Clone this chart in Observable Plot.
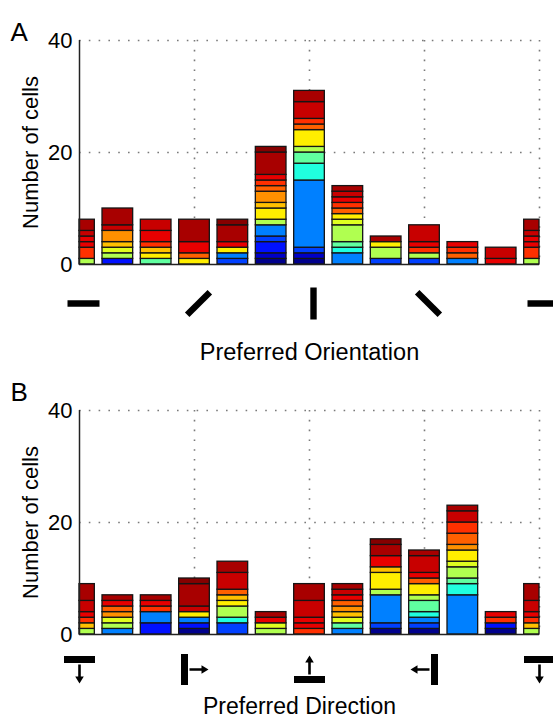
<!DOCTYPE html>
<html>
<head>
<meta charset="utf-8">
<script src="https://cdn.jsdelivr.net/npm/d3@7"></script>
<script src="https://cdn.jsdelivr.net/npm/@observablehq/plot@0.6"></script>
<style>
  body { margin: 0; background: #fff; }
  svg { display: block; }
</style>
</head>
<body>
<div id="chart"></div>
<script>
// jet-like colour levels used for the stacked segments (bottom = blue, top = dark red)
const levelColors = [
  "#00008c", "#0000c8", "#0010ff", "#0040ff", "#0080ff", "#20ffdf",
  "#60ffa0", "#b0ff50", "#dfff20", "#ffee00", "#ffc000", "#ff9000",
  "#ff6000", "#ff3000", "#e80000", "#c80000", "#a80000", "#860000"
];

// Panel A: preferred orientation (deg), segments [level, count] from bottom to top
const orientationBins = [0, 15, 30, 45, 60, 75, 90, 105, 120, 135, 150, 165, 180];
const orientationStacks = [
  [[7,1],[13,2],[14,1],[14,1],[15,1],[16,2]],
  [[2,1],[7,1],[8,1],[10,1],[11,2],[15,1],[16,3]],
  [[6,1],[9,1],[10,1],[13,1],[14,2],[15,2]],
  [[9,1],[12,1],[14,2],[16,4]],
  [[3,1],[4,1],[9,1],[14,1],[16,3],[17,1]],
  [[0,1],[1,1],[2,2],[3,1],[4,2],[7,1],[9,2],[10,1],[11,2],[12,1],[13,1],[14,1],[16,4],[17,1]],
  [[0,1],[1,1],[3,1],[4,12],[5,3],[6,2],[7,1],[9,3],[12,1],[13,1],[15,3],[16,2]],
  [[4,2],[5,1],[6,1],[7,3],[8,1],[9,1],[12,1],[13,1],[14,1],[15,1],[16,1]],
  [[3,1],[7,2],[9,1],[16,1]],
  [[3,1],[7,1],[13,1],[14,1],[15,3]],
  [[4,1],[12,1],[13,1],[14,1]],
  [[14,1],[15,2]],
  [[7,1],[13,2],[14,1],[14,1],[15,1],[16,2]]
];

// Panel B: preferred direction (deg)
const directionBins = [0, 30, 60, 90, 120, 150, 180, 210, 240, 270, 300, 330, 360];
const directionStacks = [
  [[7,1],[10,1],[13,1],[14,1],[15,2],[16,3]],
  [[4,1],[7,1],[8,1],[11,1],[12,1],[14,1],[16,1]],
  [[2,2],[4,2],[13,1],[14,1],[16,1]],
  [[0,1],[2,1],[4,1],[9,1],[15,1],[16,4],[17,1]],
  [[3,2],[5,1],[7,2],[9,1],[10,1],[12,1],[15,3],[16,2]],
  [[7,1],[8,1],[14,1],[16,1]],
  [[13,1],[14,1],[14,1],[15,3],[16,3]],
  [[4,1],[6,1],[8,1],[10,1],[11,1],[12,1],[14,1],[15,1],[16,1]],
  [[0,1],[3,1],[4,5],[7,1],[9,3],[10,1],[14,2],[16,2],[17,1]],
  [[0,1],[3,1],[4,1],[5,1],[6,2],[7,1],[9,2],[12,1],[14,1],[15,3],[16,1]],
  [[4,7],[5,2],[6,1],[7,2],[8,1],[9,2],[11,1],[12,2],[13,2],[15,2],[16,1]],
  [[0,1],[2,1],[13,1],[14,1]],
  [[7,1],[10,1],[13,1],[14,1],[15,2],[16,3]]
];

const countTicks = [0, 20, 40];
const countGrid = [20, 40];
const orientationTicks = [0, 45, 90, 135, 180];
const directionTicks = [0, 90, 180, 270, 360];
const yLabel = "Number of cells";
const orientationLabel = "Preferred Orientation";
const directionLabel = "Preferred Direction";

function segments(bins, stacks, step, lo, hi) {
  const rows = [];
  bins.forEach((b, i) => {
    let y = 0;
    for (const [level, n] of stacks[i]) {
      rows.push({
        x1: Math.max(lo, b - 0.4 * step),
        x2: Math.min(hi, b + 0.4 * step),
        y1: y, y2: y + n, color: levelColors[level]
      });
      y += n;
    }
  });
  return rows;
}

function poly(ctx, pts) {
  ctx.moveTo(pts[0][0], pts[0][1]);
  for (let k = 1; k < pts.length; k++) ctx.lineTo(pts[k][0], pts[k][1]);
  ctx.closePath();
}

// thick bar drawn at the given orientation
function orientIcon(deg) {
  const t = deg * Math.PI / 180;
  const ux = Math.cos(t), uy = -Math.sin(t), vx = -uy, vy = ux;
  const L = 16, T = 3.2;
  return {draw(ctx) {
    poly(ctx, [
      [L*ux + T*vx, L*uy + T*vy], [L*ux - T*vx, L*uy - T*vy],
      [-L*ux - T*vx, -L*uy - T*vy], [-L*ux + T*vx, -L*uy + T*vy]
    ]);
  }};
}

// bar + arrow showing the motion direction
function directionIcon(deg) {
  const t = deg * Math.PI / 180;
  const ax = Math.sin(t), ay = Math.cos(t), px = Math.cos(t), py = -Math.sin(t);
  const P = (s, q) => [s*ax + q*px, s*ay + q*py];
  return {draw(ctx) {
    poly(ctx, [P(-13.5,-15.5), P(-6.5,-15.5), P(-6.5,15.5), P(-13.5,15.5)]);
    poly(ctx, [P(-5,-1.3), P(7,-1.3), P(7,-4.3), P(14,0), P(7,4.3), P(7,1.3), P(-5,1.3)]);
  }};
}

const font = "'Liberation Sans', Arial, Helvetica, sans-serif";
const gridStyle = {stroke: "#7a7a7a", strokeWidth: 1.6, strokeDasharray: "1.6,8.2"};

function panel({letter, bins, stacks, step, domain, ticks, icon, iconDx, iconDy, label, labelDy, labelDx, labelSize, height, marginTop, marginBottom, letterDy}) {
  const rows = segments(bins, stacks, step, domain[0], domain[1]);
  return Plot.plot({
    width: 553, height,
    marginLeft: 79, marginRight: 14, marginTop, marginBottom,
    x: {domain, axis: null},
    y: {domain: [countTicks[0], countTicks[countTicks.length - 1]], axis: null},
    color: {type: "identity"},
    style: {fontFamily: font, color: "black", background: "white", overflow: "hidden"},
    marks: [
      Plot.ruleY(countGrid, gridStyle),
      Plot.ruleX(ticks.slice(1), gridStyle),
      Plot.rect(rows, {x1: "x1", x2: "x2", y1: "y1", y2: "y2", fill: "color", stroke: "#151515", strokeWidth: 1.3}),
      Plot.ruleX(ticks.slice(0, 1), {stroke: "#222", strokeWidth: 1.5}),
      Plot.ruleY(countTicks.slice(0, 1), {stroke: "#222", strokeWidth: 1.5}),
      Plot.text(countTicks, {y: d => d, text: d => String(d), frameAnchor: "left", dx: -7, textAnchor: "end", lineAnchor: "middle", fontSize: 22, fill: "black"}),
      Plot.text([yLabel], {text: d => d, frameAnchor: "left", dx: -49, rotate: -90, textAnchor: "middle", lineAnchor: "middle", fontSize: 22, fill: "black"}),
      Plot.text([label], {text: d => d, frameAnchor: "bottom", dx: labelDx, dy: labelDy, textAnchor: "middle", lineAnchor: "middle", fontSize: labelSize, fill: "black"}),
      Plot.text([letter], {text: d => d, frameAnchor: "top-left", dx: -69, dy: letterDy, textAnchor: "start", lineAnchor: "middle", fontSize: 26, fill: "black"}),
      ...ticks.map(t => Plot.dot([t], {x: d => d, frameAnchor: "bottom", dx: iconDx, dy: iconDy, symbol: icon(t), fill: "black", stroke: "none"}))
    ]
  });
}

const chart = document.getElementById("chart");
chart.append(panel({
  letter: "A", bins: orientationBins, stacks: orientationStacks, step: 15, domain: [0, 180],
  ticks: orientationTicks, icon: orientIcon, iconDx: 4, iconDy: 39,
  label: orientationLabel, labelDy: 88, labelDx: 0, labelSize: 23.5,
  height: 370, marginTop: 40, marginBottom: 106, letterDy: -8
}));
chart.append(panel({
  letter: "B", bins: directionBins, stacks: directionStacks, step: 30, domain: [0, 360],
  ticks: directionTicks, icon: directionIcon, iconDx: 0, iconDy: 35,
  label: directionLabel, labelDy: 72, labelDx: -10, labelSize: 23,
  height: 350, marginTop: 40, marginBottom: 86, letterDy: -18
}));
</script>
</body>
</html>
